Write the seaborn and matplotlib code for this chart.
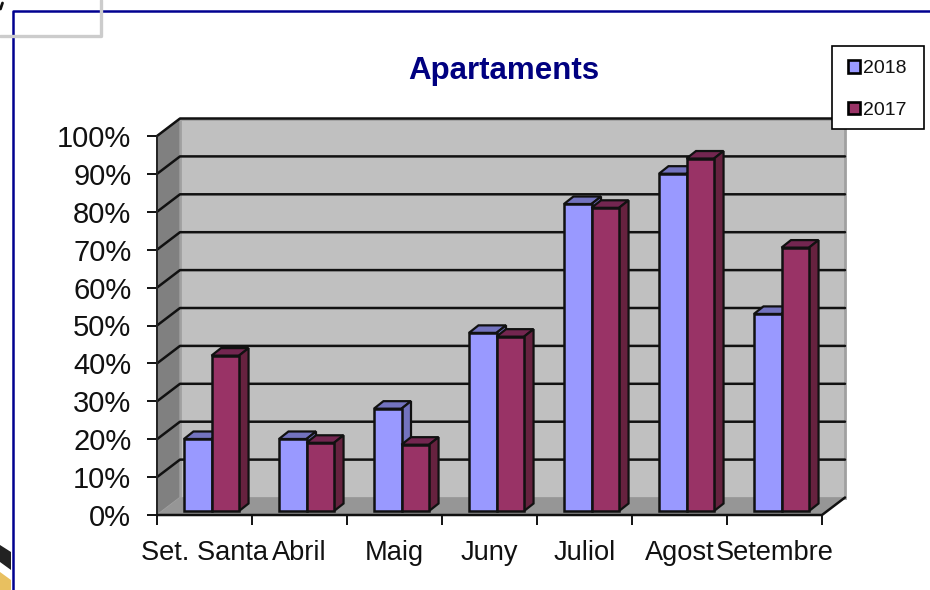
import matplotlib
matplotlib.use("Agg")
import matplotlib.pyplot as plt
from matplotlib.patches import Polygon, Rectangle
from matplotlib.lines import Line2D
from matplotlib.transforms import Affine2D
import pandas as pd
import seaborn as sns

categories = ["Set. Santa", "Abril", "Maig", "Juny", "Juliol", "Agost", "Setembre"]
values_2018 = [19, 19, 27, 47, 81, 89, 52]
values_2017 = [41, 18, 17.5, 46, 80, 93, 69.5]
series_names = ["2018", "2017"]
title_text = "Apartaments"

W, H = 930, 590
FONT = "Liberation Sans"
sns.set_theme(style="white")
plt.rcParams["font.family"] = [FONT, "DejaVu Sans"]

df = pd.DataFrame({
    "mes": categories * 2,
    "valor": values_2018 + values_2017,
    "any": [series_names[0]] * 7 + [series_names[1]] * 7,
})

fig = plt.figure(figsize=(W / 100, H / 100), dpi=100, facecolor="white")
L, R, T, B = 157, 822, 136, 515
ax = fig.add_axes([L / W, (H - B) / H, (R - L) / W, (B - T) / H])
ax.patch.set_visible(False)

sns.barplot(data=df, x="mes", y="valor", hue="any", hue_order=series_names,
            palette=["#9999FF", "#993366"], width=0.58, gap=0, dodge=True,
            saturation=1, edgecolor="#111111", linewidth=1.8, ax=ax, legend=True)
bars = [b for b in ax.patches if b.get_height() > 0]
bars.sort(key=lambda b: b.get_x())

ax.set_xlim(-0.5, len(categories) - 0.5)
ax.set_ylim(0, 100)
ax.set_xlabel("")
ax.set_ylabel("")
sns.despine(ax=ax, left=True, bottom=True, top=True, right=True)
ax.set_yticks(range(0, 101, 10))
ax.set_yticklabels([f"{v}%" for v in range(0, 101, 10)], fontsize=21, color="#111111")
ax.tick_params(axis="y", which="major", left=True, length=7.2, width=1.3, color="black", pad=11.3)
ax.set_xticks(range(len(categories)))
ax.set_xticklabels(categories, fontsize=19.6, color="#111111")
ax.set_xticks([i - 0.5 for i in range(len(categories) + 1)], minor=True)
ax.tick_params(axis="x", which="major", bottom=False, length=0, pad=18)
ax.tick_params(axis="x", which="minor", bottom=True, length=7, width=1.3, color="black")

# ---- pseudo-3D box: wall, side wall and floor derived from the axes frame
DX, DY = 23, 17.5
back = ax.transAxes + Affine2D().translate(DX, DY)
ax.add_patch(Rectangle((0, 0), 1, 1, transform=back, facecolor="#C0C0C0",
                       edgecolor="#A0A0A0", lw=2, zorder=0.5, clip_on=False))
to_px = ax.transAxes.transform


def px_poly(points, **kw):
    p = Polygon(points, closed=True, transform=None, clip_on=False, **kw)
    ax.add_artist(p)
    return p


(x0, y0), (x1, y1) = to_px((0, 0)), to_px((1, 1))
px_poly([(x0, y0), (x0 + DX, y0 + DY), (x0 + DX, y1 + DY), (x0, y1)],
        facecolor="#808080", edgecolor="#A0A0A0", lw=1, zorder=0.6)
px_poly([(x0, y0), (x1, y0), (x1 + DX, y0 + DY), (x0 + DX, y0 + DY)],
        facecolor="#969696", edgecolor="none", zorder=0.7)

for v in ax.get_yticks()[1:]:
    py = ax.transData.transform((0, v))[1]
    ax.add_artist(Line2D([x0, x0 + DX, x1 + DX], [py, py + DY, py + DY], transform=None,
                         color="#111111", lw=1.8, zorder=0.8, clip_on=False))
ax.add_artist(Line2D([x0, x0], [y0, y1], transform=None, color="#222222", lw=1.4,
                     zorder=1, clip_on=False))
ax.add_artist(Line2D([x0, x1, x1 + DX], [y0, y0, y0 + DY], transform=None, color="#111111",
                     lw=1.8, zorder=5, clip_on=False))

# ---- turn every seaborn bar into a prism, from the bar's own geometry
BX, BY = 7, 4
PX, PY = 9.5, 7.5
shift = Affine2D().translate(BX, BY)
dark = {"#9999FF": ("#7373BF", "#7373BF"), "#993366": ("#732650", "#66223F")}
for i, bar in enumerate(bars):
    z = 2 + i * 0.01
    (a, b), (c, d) = ax.transData.transform(
        [(bar.get_x(), 0), (bar.get_x() + bar.get_width(), bar.get_height())])
    a, c, b, d = a + BX, c + BX, b + BY, d + BY
    face = matplotlib.colors.to_hex(bar.get_facecolor()).upper()
    top_c, side_c = dark[face]
    px_poly([(a, d), (c, d), (c + PX, d + PY), (a + PX, d + PY)],
            facecolor=top_c, edgecolor="#111111", lw=1.6, zorder=z)
    px_poly([(c, b), (c + PX, b + PY), (c + PX, d + PY), (c, d)],
            facecolor=side_c, edgecolor="#111111", lw=1.6, zorder=z + 0.001)
    bar.set_transform(ax.transData + shift)
    bar.set_clip_on(False)
    bar.set_zorder(z + 0.002)

# ---- title and legend
fig.text(503.5 / W, 1 - 71 / H, title_text, fontsize=22.5, fontweight="bold",
         color="#000080", ha="center", va="center")
handles, labels = ax.get_legend_handles_labels()
leg = ax.legend(handles, labels, loc="upper left", bbox_to_anchor=(832 / W, 1 - 44 / H),
                bbox_transform=fig.transFigure, fontsize=14, frameon=False,
                borderpad=0.82, labelspacing=1.26, handlelength=0.62, handleheight=0.62,
                handletextpad=0.15, borderaxespad=0, title=None)
leg.set_zorder(10)
for t in leg.get_texts():
    t.set_color("#111111")
for h in leg.legend_handles:
    h.set_edgecolor("black")
    h.set_linewidth(1.9)
ax.add_artist(Rectangle((832, H - 129), 92, 83, transform=None, facecolor="white",
                        edgecolor="black", lw=1.2, zorder=9, clip_on=False))


# ---- slide furniture around the chart, in figure pixels
def fx(x):
    return x / W


def fy(y):
    return 1 - y / H


fig.add_artist(Line2D([fx(13), fx(13), fx(930)], [fy(590), fy(10.5), fy(10.5)],
                      color="#000090", lw=1.8, zorder=6))
fig.add_artist(Line2D([fx(0), fx(101), fx(101)], [fy(36), fy(36), fy(0)],
                      color="#CCCCCC", lw=2.4, zorder=7))
fig.add_artist(Line2D([fx(0.5), fx(2.5)], [fy(9), fy(3)], color="#111111", lw=2, zorder=7))
fig.add_artist(Polygon([(fx(0), fy(545)), (fx(11), fy(552)), (fx(11), fy(570)), (fx(0), fy(562))],
                       closed=True, facecolor="#222222", edgecolor="none", zorder=5))
fig.add_artist(Polygon([(fx(0), fy(572)), (fx(11), fy(580)), (fx(11), fy(590)), (fx(0), fy(590))],
                       closed=True, facecolor="#E8C060", edgecolor="none", zorder=5))

fig.savefig("out.png", dpi=100, facecolor="white")
